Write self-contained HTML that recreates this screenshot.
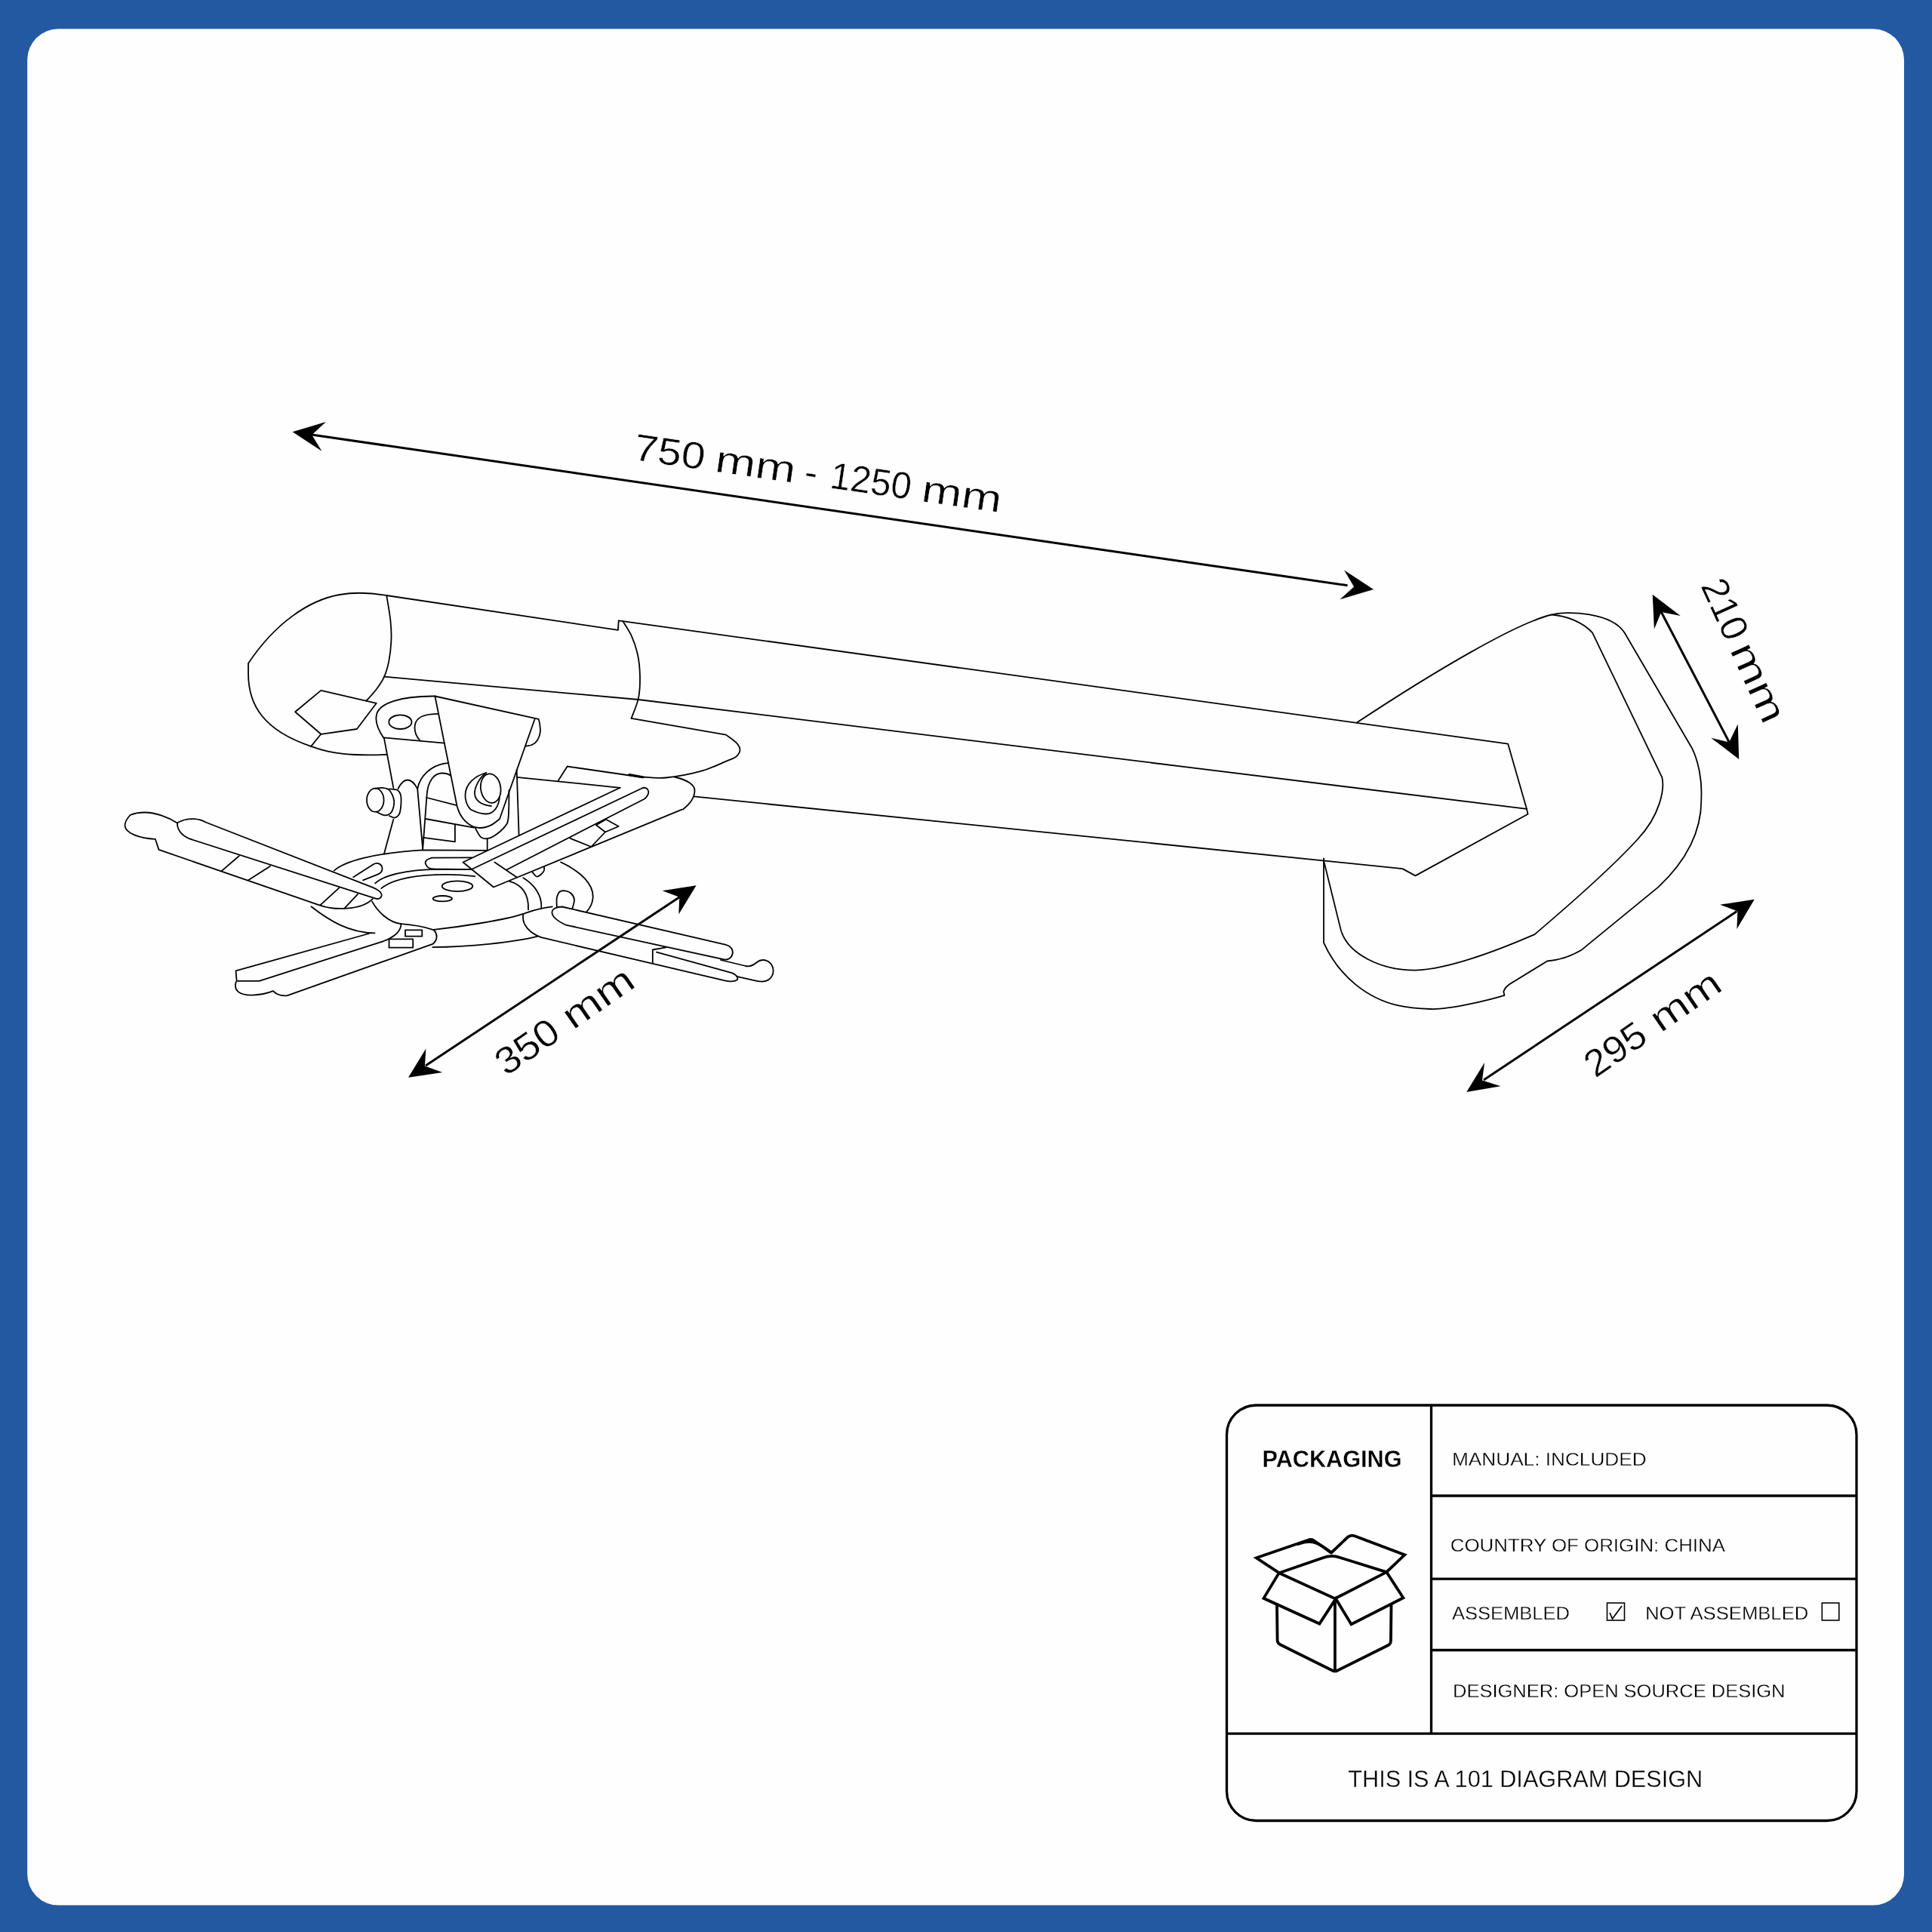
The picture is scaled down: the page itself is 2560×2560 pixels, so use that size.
<!DOCTYPE html>
<html><head><meta charset="utf-8">
<style>
html,body{margin:0;padding:0;background:#2359a1;}
svg{display:block;will-change:transform;}
text{font-family:"Liberation Sans",sans-serif;fill:#000;}
</style></head>
<body>
<svg width="2560" height="2560" viewBox="0 0 2560 2560" xmlns="http://www.w3.org/2000/svg">
<rect x="0" y="0" width="2560" height="2560" fill="#2359a1"/>
<rect x="36.2" y="38.3" width="2486.8" height="2486.2" rx="41" ry="41" fill="#fefefe"/>

<!-- ARROWS -->
<g id="arrows" fill="#000" stroke="none">
  <polygon points="387.6,572.3 431.9,559 413.2,576.2 426.4,597.7"/>
  <polygon points="1820,780.9 1781.1,755.5 1794.1,777.5 1775.5,794.3"/>
  <polygon points="2189.7,787.8 2226.7,816.1 2201.3,811 2191.9,833.5"/>
  <polygon points="2304.2,1005.9 2267.2,977.7 2291.2,983.5 2302.8,959.6"/>
  <polygon points="2324.7,1191.7 2279.1,1198.7 2302.4,1207.6 2301.4,1230.9"/>
  <polygon points="1943.2,1447 1967.1,1408.1 1964,1431.5 1988.4,1439.3"/>
  <polygon points="922.6,1173.2 877.6,1180.2 900.3,1188.7 899.3,1211.4"/>
  <polygon points="541,1427.8 564.4,1389.6 562.9,1412.5 586.2,1421"/>
</g>
<g id="arrowlines" stroke="#000" stroke-width="3" fill="none">
  <line x1="413" y1="576" x2="1785.5" y2="775.7"/>
  <line x1="2201.3" y1="811" x2="2291.2" y2="983.5"/>
  <line x1="1966" y1="1431" x2="2301.4" y2="1207.6"/>
  <line x1="564" y1="1412" x2="900.3" y2="1188.7"/>
</g>

<!-- DIMENSION TEXT -->
<g id="dimtext" font-size="50" stroke="#fefefe" stroke-width="0.5">
  <text x="838.3" y="609.0" transform="rotate(8.2 838.3 609.0)" textLength="94.6" lengthAdjust="spacingAndGlyphs">750</text>
  <text x="945.9" y="624.5" transform="rotate(8.2 945.9 624.5)" textLength="107.1" lengthAdjust="spacingAndGlyphs">mm</text>
  <text x="1063.9" y="641.5" transform="rotate(8.2 1063.9 641.5)" textLength="17.4" lengthAdjust="spacingAndGlyphs">-</text>
  <text x="1098.3" y="646.5" transform="rotate(8.2 1098.3 646.5)" textLength="108.1" lengthAdjust="spacingAndGlyphs">1250</text>
  <text x="1219.5" y="663.9" transform="rotate(8.2 1219.5 663.9)" textLength="106.6" lengthAdjust="spacingAndGlyphs">mm</text>
  <text x="670.5" y="1426.8" transform="rotate(-34.7 670.5 1426.8)" textLength="91.3" lengthAdjust="spacingAndGlyphs">350</text>
  <text x="759.2" y="1365.4" transform="rotate(-34.7 759.2 1365.4)" textLength="103.9" lengthAdjust="spacingAndGlyphs">mm</text>
  <text x="2113.8" y="1429.3" transform="rotate(-34.7 2113.8 1429.3)" textLength="87.9" lengthAdjust="spacingAndGlyphs">295</text>
  <text x="2200.5" y="1369.3" transform="rotate(-34.7 2200.5 1369.3)" textLength="103.0" lengthAdjust="spacingAndGlyphs">mm</text>
  <text x="2252.9" y="775.9" transform="rotate(65.5 2252.9 775.9)" textLength="83.7" lengthAdjust="spacingAndGlyphs">210</text>
  <text x="2291.5" y="860.7" transform="rotate(65.5 2291.5 860.7)" textLength="111.4" lengthAdjust="spacingAndGlyphs">mm</text>
</g>

<!-- TABLE -->
<g id="table" stroke="#000" fill="none" stroke-width="3.3">
  <rect x="1625.5" y="1862" width="834.5" height="550.5" rx="39" ry="39"/>
  <line x1="1896.5" y1="1862" x2="1896.5" y2="2297.2"/>
  <line x1="1896.5" y1="1982" x2="2460" y2="1982"/>
  <line x1="1896.5" y1="2092.2" x2="2460" y2="2092.2"/>
  <line x1="1896.5" y1="2186.5" x2="2460" y2="2186.5"/>
  <line x1="1625.5" y1="2297.2" x2="2460" y2="2297.2"/>
</g>
<g id="tabletext" stroke="#fefefe" stroke-width="0.3">
  <text x="1672.5" y="1944" font-size="31" font-weight="bold" textLength="185" lengthAdjust="spacingAndGlyphs">PACKAGING</text>
  <text x="1924" y="1942.2" font-size="24.5" textLength="257.7" lengthAdjust="spacingAndGlyphs">MANUAL: INCLUDED</text>
  <text x="1921.7" y="2055.6" font-size="24.5" textLength="364.3" lengthAdjust="spacingAndGlyphs">COUNTRY OF ORIGIN: CHINA</text>
  <text x="1924" y="2146" font-size="24.5" textLength="156" lengthAdjust="spacingAndGlyphs">ASSEMBLED</text>
  <text x="2180" y="2146" font-size="24.5" textLength="216.3" lengthAdjust="spacingAndGlyphs">NOT ASSEMBLED</text>
  <text x="1925" y="2249" font-size="24.5" textLength="440.5" lengthAdjust="spacingAndGlyphs">DESIGNER: OPEN SOURCE DESIGN</text>
  <text x="1786.3" y="2368" font-size="31" textLength="469.9" lengthAdjust="spacingAndGlyphs">THIS IS A 101 DIAGRAM DESIGN</text>
</g>
<g id="checks" stroke="#000" fill="none" stroke-width="1.6">
  <rect x="2129.5" y="2124" width="23" height="23"/>
  <path d="M2133 2137 L2136.5 2145 L2149 2128" stroke-width="1.8"/>
  <rect x="2414.3" y="2124" width="22.5" height="23"/>
</g>

<!-- BOX ICON -->
<g id="box" stroke="#000" fill="none" stroke-width="3.8" stroke-linejoin="miter" stroke-linecap="round">
  <path d="M1664.7 2064.3 L1734.5 2040.2 Q1737.5 2039.3 1740.5 2041 L1764.3 2057.2 L1786 2036.6 Q1790.5 2033.5 1795 2035.3 L1861.2 2060.3 L1837.2 2083.1 L1859.4 2117.3 L1790.5 2152.2 L1770 2118.4 L1748.4 2151.6 L1674.4 2117.8 L1694.8 2084.2 Z"/>
  <path d="M1694.8 2084.2 L1752 2064.5 C1760 2061 1768 2061 1776 2064 L1837.2 2083.1"/>
  <path d="M1720 2046 Q1735 2040 1745 2045 Q1752 2048 1763 2057"/>
  <path d="M1694.8 2084.2 L1768.9 2118.2 L1837.2 2083.1"/>
  <path d="M1768.9 2118.2 L1768.9 2214"/>
  <path d="M1692 2125.8 L1692.6 2173.5 Q1692.8 2177.5 1696.5 2179.3 L1766 2213.7 Q1768.9 2215.2 1771.8 2213.7 L1839.5 2180 Q1842.8 2178.3 1842.9 2174 L1843.5 2125.8"/>
</g>

<!-- DRAWING -->
<g id="drawing" stroke="#000" fill="none" stroke-width="1.8" stroke-linejoin="round" stroke-linecap="round">
<path d="M512.2 789 C495 786 470 784.5 450 788 C410 795 365 825 329 879 L329 892.5 C329 935 350 968 411.8 988.8 C425 993.5 440 998.3 470 1000 C490 1001 505 1000.2 512.2 999.8"/>
<path d="M512.2 789 C513.1 794.5 516.4 812.1 517.4 822.1 C518.4 832.1 518.8 840 518.4 849 C518 858 516.8 868 515.3 875.9 C513.8 883.8 511.9 890.4 509.1 896.6 C506.4 902.8 502.8 907.9 498.8 913.2 C494.8 918.6 487.6 926.1 485.3 928.7"/>
<path d="M512.2 789 L819 834.9 L819.7 822.4 L825.3 823.1 L1998.1 985.6 L2023 1071.9 L2024.5 1078.8 L1875.5 1160.4 L1858.4 1151.1 L919.5 1055.4"/>
<path d="M825.3 823.1 C827.2 826.3 833.3 834.8 836.6 842.1 C839.9 849.4 843 858 844.9 867 C846.8 876 847.8 886.4 848 896 C848.2 905.6 847.9 915.6 846 924.9 C844.1 934.2 838.2 947.3 836.6 951.8"/>
<path d="M509.1 896.6 L846 927 L2023 1071.9"/>
<path d="M836.6 951.8 L961.9 973.6 C964.1 975.3 972.3 980.6 975.4 983.9 C978.5 987.2 980.5 990.2 980.5 993.3 C980.5 996.4 978.5 1000 975.4 1002.6 C972.3 1005.2 969.8 1005.5 961.9 1008.8 C954 1012.1 941 1018.6 927.7 1022.2 C914.4 1025.8 894.8 1029.3 882.2 1030.5 C869.6 1031.7 857.2 1029.7 852.2 1029.5"/>
<path d="M1797.8 957.6 C1900 890 2010 825 2056.2 814.5 C2075 809 2135 811 2152.5 838.3 L2241.9 991.2 C2251 1010 2255.5 1035 2254.3 1058 C2255 1100 2235 1140 2197.4 1175.4 L2096 1258.4 C2085 1265 2068 1272 2050.2 1273.5 L2004.6 1301.4 C1998 1305 1993.5 1310 1992.3 1314 L1993.5 1318.9 C1970 1326 1920 1338 1895.6 1337 C1880 1336.5 1862 1334.5 1851.8 1332.2 C1812.9 1323 1774.5 1294.8 1754 1249.2 L1754 1137.3"/>
<path d="M2056.2 814.5 C2075 816 2097 824 2110 838.3 L2202.2 1029.8 C2206 1045 2200 1080 2170 1112 C2140 1145 2090 1190 2033.5 1238.1 C1987.6 1258 1920 1284 1876 1285.6 C1831 1286 1784.7 1264.6 1776.3 1230.6 L1754 1140.2"/>
<path d="M391.1 943.2 L425.3 914.9 L498.8 931.8 L472.9 966 L425.3 972.8 Z"/>
<path d="M425.3 972.8 L411.8 989.4"/>
<path d="M508.1 977.4 C501 967 497 957 498.8 948 C501 932 530 922 576.4 922.5"/>
<path d="M576.4 922.5 L713.7 952.8 C714 954 714.9 957.1 715.3 960 C715.6 962.9 716.3 966.9 715.8 970.4 C715.3 973.9 714 977.9 712.2 980.7 C710.4 983.5 707.5 985.7 704.9 987 C702.3 988.3 698 988.2 696.6 988.5"/>
<path d="M576.4 922.5 L605.5 1067.8 C609 1082 620 1097 636 1097 C648 1097 655 1091 662 1085.2 L708.6 952.8"/>
<path d="M508.1 977.4 L588.5 984.7"/>
<path d="M580.5 945.9 L572 946.3 C556 947.5 549.5 955 549.5 964 C549.5 971 552.5 977 556.7 981.5"/>
<ellipse cx="530.4" cy="956.7" rx="15.1" ry="9.3"/>
<path d="M508.9 977.9 L521.3 1043.9"/>
<ellipse cx="497.3" cy="1060.2" rx="11.3" ry="15.5"/>
<path d="M497.3 1044.6 C498.9 1044.5 503.5 1043.5 506.6 1043.9 C509.7 1044.3 513.3 1044.2 515.9 1047 C518.5 1049.8 521.6 1056.1 522.1 1060.9 C522.6 1065.7 521.1 1072.5 519 1075.7 C516.9 1078.9 513.1 1080.3 509.7 1080.3 C506.3 1080.3 500.6 1076.5 498.8 1075.7"/>
<path d="M515.9 1045.4 C517.7 1045.7 524.2 1045.2 526.8 1047 C529.4 1048.8 530.9 1051.4 531.4 1056.3 C531.9 1061.2 531.2 1072 529.9 1076.5 C528.6 1081 526 1082.6 523.7 1083.4 C521.4 1084.2 517.2 1081.5 515.9 1081.1"/>
<path d="M521.3 1085.8 L508.9 1131.6"/>
<path d="M553.2 1045.4 L560.2 1125.4"/>
<path d="M527.5 1045 C531 1038 536 1033.5 540 1033.5 C545 1033.5 550 1039 553.2 1045.4"/>
<path d="M553.2 1045.4 C556 1030 570 1013 593.5 1011.2"/>
<path d="M560.2 1125.4 L565.6 1053.2 C567 1035 575 1025 585 1024.5 C590 1024.3 594 1025.5 596.6 1027.5"/>
<path d="M565.6 1057 L605.2 1067.1"/>
<path d="M564 1085 L627.7 1096.6"/>
<path d="M560.9 1109.8 L602.9 1115.3 L602.9 1092.8"/>
<ellipse cx="650.2" cy="1044.6" rx="13.2" ry="19.4" transform="rotate(-8 650.2 1044.6)"/>
<path d="M644 1024 C636 1030 629 1042 629 1051 C629 1062 640 1067 651 1068"/>
<path d="M644 1024 C630 1028 617 1038 616.5 1053 C616 1060 619 1068 623.5 1072.5 C630 1076 638 1078.5 644 1078.5 C655 1078.5 661 1068 661.9 1056.3"/>
<path d="M684.7 1020 L687.6 1106.6"/>
<path d="M674.5 1047 C674.4 1053 674.5 1075.2 673.6 1083.3 C672.7 1091.4 672 1091.4 668.9 1095.4 C665.8 1099.4 658.9 1104.9 655 1107.5 C651.1 1110.1 648.7 1110.9 645.7 1111.2 C642.8 1111.5 639.9 1111.7 637.3 1109.4 C634.6 1107.1 631 1099.3 629.8 1097.3"/>
<path d="M645.7 1111.2 L645.7 1126.6"/>
<path d="M684.7 1029.8 L821.6 1043.8"/>
<path d="M739.6 1034.5 L751.7 1015.5 L851.6 1030"/>
<path d="M834 1026.6 L851.6 1029.8" stroke-width="3.2"/>
<path d="M821.6 1043.8 L613.5 1142.5 L654 1175.5 L903.6 1072.7"/>
<path d="M625.2 1151.8 L850.6 1044.5 C855.5 1042.2 860.5 1046 859 1051.5 C858 1055 856 1057.3 853.2 1059 L670.8 1152.7"/>
<path d="M893.6 1029.5 C910 1033 921 1040 920.5 1048 C920 1058 914 1065 905 1072.5"/>
<path d="M655.4 1142.5 L684.8 1162.5"/>
<path d="M755.5 1110.9 L783.4 1122 L802 1102.5 L819.7 1095 L803 1085.7 L790 1093.2 L802 1102.5"/>
<path d="M705.3 1155.5 C706.4 1156.5 709.3 1161.7 711.8 1161.6 C714.3 1161.5 718.7 1157.1 720.2 1155 C721.8 1152.9 721 1150 721.1 1149"/>
<path d="M442.7 1153.6 C456 1142 492 1130.5 560 1126.3 L644.8 1126.9"/>
<path d="M743.1 1142.4 C770 1155 787 1172 785.6 1190 C785 1197 782 1203 777.3 1208.2"/>
<path d="M693.3 1163.2 C708 1172 718 1186 717.3 1202.1"/>
<path d="M674.7 1167.7 C690 1172 701 1183 700 1205.4"/>
<path d="M497.2 1170.4 C508 1160 538 1152.3 580 1151.8 L625.2 1152.2"/>
<path d="M505.2 1177.1 C520 1165 552 1159 592 1158.9 C607 1159 619 1160 629.3 1161.1"/>
<path d="M625.2 1136.4 L572 1136.6 C570.8 1137.2 566.3 1138.6 565 1140 C563.7 1141.4 563.3 1143.2 564 1145 C564.7 1146.8 567 1149.4 569 1150.5 C571 1151.6 574.8 1151.3 576 1151.5 L625.2 1152.2"/>
<ellipse cx="606" cy="1174.2" rx="20.3" ry="6.9"/>
<ellipse cx="586.3" cy="1190.7" rx="12.7" ry="3.7"/>
<path d="M574.9 1231.9 C610 1228 670 1219 692.5 1211.2 C702 1208 712 1203.5 731.8 1201.4"/>
<path d="M573.3 1255.1 C620 1254.5 680 1249 712.4 1240.6"/>
<path d="M737.8 1201.2 C737.8 1199.3 737.2 1193.2 737.8 1190 C738.4 1186.8 739.6 1183.3 741.5 1181.7 C743.4 1180.1 746.4 1180.1 748.9 1180.4 C751.4 1180.7 754.4 1181.6 756.4 1183.5 C758.4 1185.4 760.7 1188.5 761 1191.9 C761.3 1195.3 758.8 1202 758.3 1204"/>
<path d="M234.8 1090.6 C222 1082 205 1076.5 192 1076.5 C183 1076.5 177 1078 172.5 1080 C167 1086 165.5 1090 165.5 1094 C166 1104 185 1111 205.8 1111.8 L210.4 1125.9 L423.2 1199.3 C442 1206 478 1207 493.8 1191.2"/>
<path d="M234.8 1090.6 C241 1086.5 250 1085 257 1085.2 C263 1085.4 268 1087 272.5 1089.5 L493.8 1175.8 C501 1178.6 506.5 1183 505.6 1187 C504.8 1190.4 501.2 1191.7 497.8 1190.6 L250.5 1111.2 C241 1107 235 1100 234.8 1090.6"/>
<path d="M316.7 1134.2 L293.9 1153.9"/>
<path d="M358 1147.7 L329.1 1166.3"/>
<path d="M449.2 1176.6 L424.3 1199.4"/>
<path d="M474 1184.9 L456.4 1203.6"/>
<path d="M468.2 1162.3 L494.8 1145.3 C500 1142 506.5 1145 506.5 1151 C506.5 1154.5 504 1157.3 500.5 1158.6 L481 1166.3"/>
<path d="M412.4 1201.3 C435 1219 462 1236 496.5 1236.3"/>
<path d="M493.1 1194.6 C500 1207 514 1222 531.5 1224.2 C550 1225.5 565 1229 575.1 1232.3"/>
<path d="M489 1237 L312.5 1286.4 L313.6 1299.8 L343.6 1299.8 L505.9 1247.8"/>
<path d="M505.9 1247.8 C518 1244 531.5 1236 531.5 1224.2"/>
<path d="M312.8 1300.9 C309 1313 318 1318.8 334 1318.6 C345 1318.3 355 1316 361.9 1313.2 C366 1317.5 373 1320 380.8 1319.1 L573.3 1250.9 C580 1246 580 1238 575.1 1232.3"/>
<rect x="537" y="1232.3" width="22.3" height="8.4"/>
<rect x="515.5" y="1244.4" width="31.7" height="11.2"/>
<path d="M693.3 1212 C691 1226 703 1237 717.3 1242.2 L961.6 1299.6 C966 1300.8 973 1300.8 976.4 1298.5 C978.5 1296.5 977 1293.5 974 1291.5 C972.5 1290.5 971 1289.7 969.6 1289.1 L870 1261.6"/>
<path d="M960.9 1251.7 L745 1201.5 C738 1201.5 731 1204 731.5 1209.5 C732 1216 740 1221 749.9 1225.7 L960.9 1271.7 C966.4 1271.7 970.9 1267.2 970.9 1261.7 C970.9 1256.6 966.5 1252.8 960.9 1251.7"/>
<path d="M955 1272 L988 1280 C993 1281 999 1278.5 1003 1275 C1006 1272.5 1008 1272 1011 1272 C1019 1272 1024.6 1279 1024.6 1286.5 C1024.6 1294.5 1018 1300.7 1010.1 1300.7 C1007 1300.7 1004.5 1300.3 1002.9 1299.9 L976.1 1293.8"/>
<path d="M864.8 1277.1 L864.8 1258.5 L882.4 1255.4"/>
</g>
</svg>
</body></html>
